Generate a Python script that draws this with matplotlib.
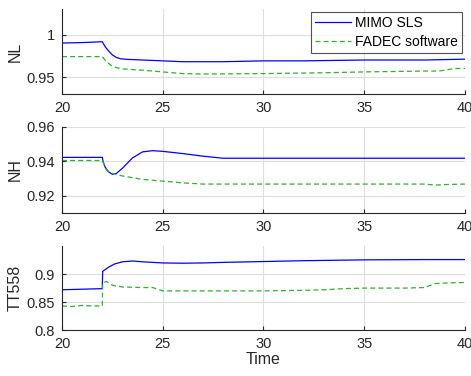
import matplotlib
matplotlib.use("Agg")
import matplotlib.pyplot as plt

plt.rcParams['font.family'] = ['Liberation Sans', 'DejaVu Sans']

# Engine responses: MIMO SLS controller vs FADEC software
t_nl_mimo = [20, 21, 22, 22.05, 22.15, 22.3, 22.5, 22.7, 22.9, 23.2, 24, 25, 26, 27, 28,
             30, 32, 35, 38, 40]
nl_mimo = [0.990, 0.9905, 0.9915, 0.9895, 0.9855, 0.981, 0.976, 0.973, 0.9715, 0.9708,
           0.970, 0.969, 0.968, 0.968, 0.968, 0.969, 0.969, 0.970, 0.970, 0.971]
t_nl_fadec = [20, 22, 22.1, 22.25, 22.45, 22.7, 23, 24, 25, 26, 27, 30, 33, 35, 38, 38.7,
              39.5, 40]
nl_fadec = [0.974, 0.974, 0.971, 0.967, 0.9635, 0.961, 0.9595, 0.958, 0.956, 0.954,
            0.9535, 0.954, 0.955, 0.956, 0.957, 0.957, 0.960, 0.960]

t_nh_mimo = [20, 22, 22.05, 22.15, 22.3, 22.5, 22.7, 23, 23.5, 24, 24.5, 25, 26, 27, 28,
             30, 35, 40]
nh_mimo = [0.9423, 0.9423, 0.9395, 0.9365, 0.934, 0.9325, 0.933, 0.936, 0.942, 0.9455,
           0.9462, 0.9458, 0.9445, 0.943, 0.9418, 0.9418, 0.9418, 0.9418]
t_nh_fadec = [20, 22, 22.2, 22.5, 23, 24, 25, 26, 27, 30, 35, 38, 38.5, 39, 40]
nh_fadec = [0.9405, 0.9405, 0.935, 0.933, 0.9315, 0.9295, 0.9285, 0.9275, 0.9268,
            0.9268, 0.9268, 0.9268, 0.9262, 0.9265, 0.9268]

t_tt_mimo = [20, 22, 22.02, 22.3, 22.6, 23, 23.5, 24, 25, 26, 27, 28, 30, 32, 35, 38, 40]
tt_mimo = [0.872, 0.874, 0.905, 0.912, 0.918, 0.922, 0.9235, 0.922, 0.920, 0.9195,
           0.920, 0.921, 0.9225, 0.924, 0.9255, 0.926, 0.926]
t_tt_fadec = [20, 20.5, 21, 21.5, 22, 22.02, 22.2, 22.5, 23, 24, 24.5, 25, 25.5, 27, 30,
              32, 33, 34, 35, 37, 38, 38.5, 39, 40]
tt_fadec = [0.843, 0.842, 0.844, 0.843, 0.843, 0.884, 0.887, 0.880, 0.877, 0.876, 0.876,
            0.870, 0.870, 0.870, 0.870, 0.871, 0.872, 0.874, 0.875, 0.875, 0.876, 0.883,
            0.884, 0.885]

x_ticks = [20, 25, 30, 35, 40]

panels = [
    ("NL", t_nl_mimo, nl_mimo, t_nl_fadec, nl_fadec, (0.93, 1.03), [0.95, 1.0], ["0.95", "1"]),
    ("NH", t_nh_mimo, nh_mimo, t_nh_fadec, nh_fadec, (0.91, 0.96), [0.92, 0.94, 0.96], ["0.92", "0.94", "0.96"]),
    ("TT558", t_tt_mimo, tt_mimo, t_tt_fadec, tt_fadec, (0.80, 0.95), [0.8, 0.85, 0.9], ["0.8", "0.85", "0.9"]),
]

fig = plt.figure(figsize=(4.71, 3.76), dpi=100)
rects = [(0.1316, 0.750, 0.8556, 0.226),
         (0.1316, 0.4335, 0.8556, 0.229),
         (0.1316, 0.1223, 0.8556, 0.223)]

blue = (0.0, 0.0, 1.0)
green = (0.2, 0.68, 0.2)
spine_col = (0.15, 0.15, 0.15)

for i, (rect, (name, tm, vm, tf, vf, ylim, yt, ytl)) in enumerate(zip(rects, panels)):
    ax = fig.add_axes(rect)
    ax.plot(tm, vm, color=blue, lw=0.9, label="MIMO SLS")
    ax.plot(tf, vf, color=green, lw=0.9, ls=(0, (4, 2.5)), label="FADEC software")
    ax.set_xlim(20, 40)
    ax.set_ylim(*ylim)
    ax.set_xticks(x_ticks)
    ax.set_xticklabels([str(v) for v in x_ticks])
    ax.set_yticks(yt)
    ax.set_yticklabels(ytl)
    ax.grid(True, color=(0.87, 0.87, 0.87), lw=0.8)
    ax.set_axisbelow(True)
    for s in ("top", "right"):
        ax.spines[s].set_visible(False)
    for s in ("left", "bottom"):
        ax.spines[s].set_color(spine_col)
        ax.spines[s].set_linewidth(0.8)
    ax.tick_params(direction="in", length=3, width=0.8, colors=spine_col,
                   labelsize=10.5, labelcolor=(0.15, 0.15, 0.15), pad=5)
    ax.set_ylabel(name, fontsize=11.5, color=(0.15, 0.15, 0.15), labelpad=3)
    if i == 0:
        leg = ax.legend(loc="upper right", fontsize=10, frameon=True, fancybox=False,
                        edgecolor=(0.15, 0.15, 0.15), borderpad=0.3, handlelength=2.6,
                        handletextpad=0.3, labelspacing=0.35, borderaxespad=0.2)
        leg.get_frame().set_linewidth(0.8)
    if i == 2:
        ax.set_xlabel("Time", fontsize=11.5, color=(0.15, 0.15, 0.15), labelpad=1)

fig.savefig("out.png", dpi=100)
